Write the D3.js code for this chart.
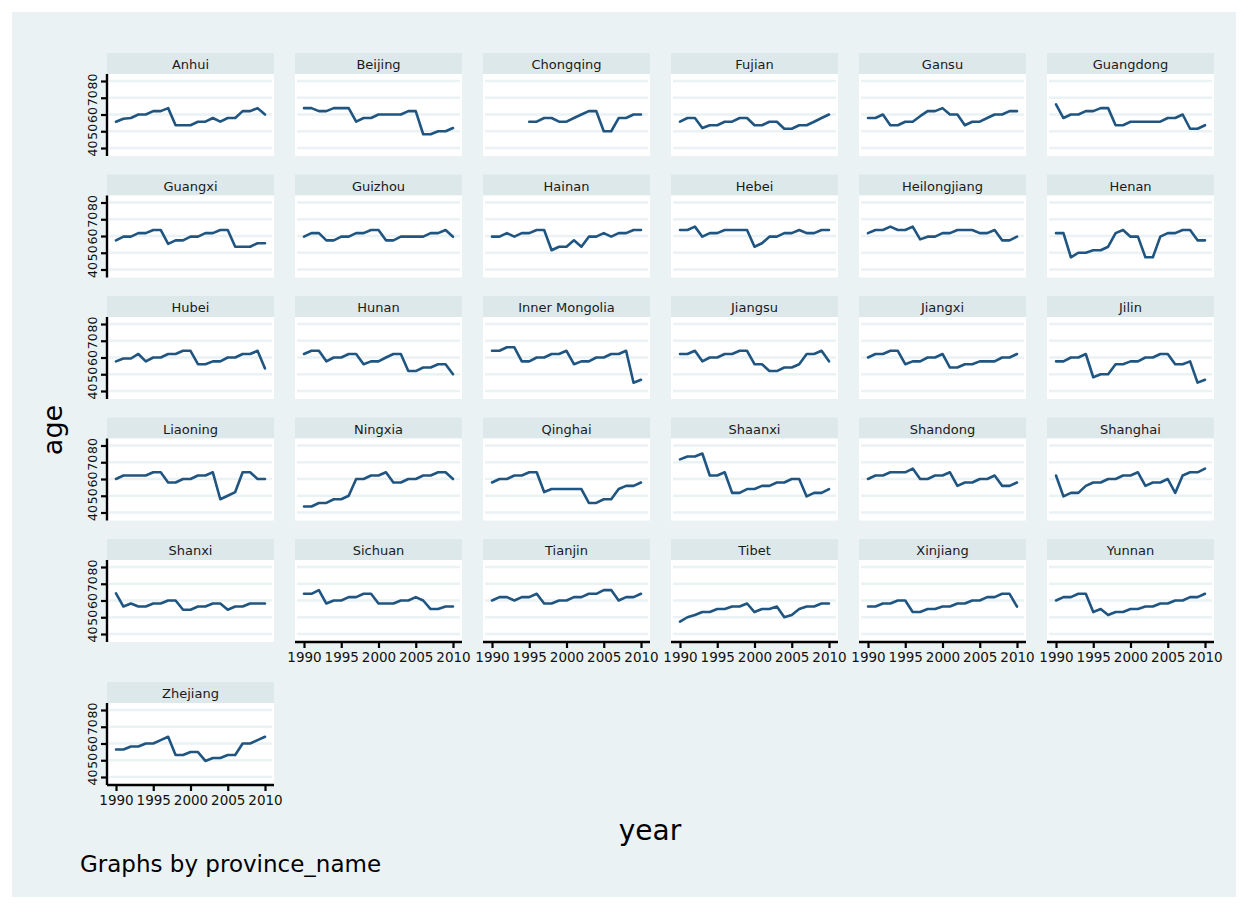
<!DOCTYPE html>
<html>
<head>
<meta charset="utf-8">
<script src="https://cdn.jsdelivr.net/npm/d3@7"></script>
<style>
  html, body { margin: 0; padding: 0; background: #ffffff; }
  svg { display: block; }
  text { font-family: "DejaVu Sans", "Liberation Sans", sans-serif; }
</style>
</head>
<body>
<svg id="chart" width="1248" height="909"></svg>
<script>
// Mean age by province, 1990-2010
const years = d3.range(1990, 2011);
const xTicks = [1990, 1995, 2000, 2005, 2010];
const yTicks = [40, 50, 60, 70, 80];

const anhui        = [55.7,57.5,57.9,60,60,62,62,63.8,53.6,53.6,53.6,55.7,55.7,57.9,55.7,57.9,57.9,62,62,63.8,60];
const beijing      = [63.8,63.8,62,62,63.8,63.8,63.8,55.7,57.9,57.9,60,60,60,60,62,62,48.2,48.2,50,50,51.9];
const chongqing    = [null,null,null,null,null,55.7,55.7,57.9,57.9,55.7,55.7,57.9,60,62,62,50,50,57.9,57.9,60,60];
const fujian       = [55.7,57.9,57.9,51.9,53.6,53.6,55.7,55.7,57.9,57.9,53.6,53.6,55.7,55.7,51.5,51.5,53.6,53.6,55.7,57.9,60];
const gansu        = [57.9,57.9,60,53.6,53.6,55.7,55.7,59,62,62,63.8,60,60,53.6,55.7,55.7,57.9,60,60,62,62];
const guangdong    = [66,57.9,60,60,62,62,63.8,63.8,53.6,53.6,55.7,55.7,55.7,55.7,55.7,57.9,57.9,60,51.5,51.5,53.6];
const guangxi      = [57.4,59.6,59.6,61.7,61.7,63.6,63.6,55.3,57.4,57.4,59.6,59.6,61.7,61.7,63.6,63.6,53.6,53.6,53.6,55.7,55.7];
const guizhou      = [59.6,61.7,61.7,57.4,57.4,59.6,59.6,61.7,61.7,63.6,63.6,57.4,57.4,59.6,59.6,59.6,59.6,61.7,61.7,63.6,59.6];
const hainan       = [59.6,59.6,61.7,59.6,61.7,61.7,63.6,63.6,51.5,53.6,53.6,57.4,53.6,59.6,59.6,61.7,59.6,61.7,61.7,63.6,63.6];
const hebei        = [63.6,63.6,65.6,59.6,61.7,61.7,63.6,63.6,63.6,63.6,53.6,55.7,59.6,59.6,61.7,61.7,63.6,61.7,61.7,63.6,63.6];
const heilongjiang = [61.7,63.6,63.6,65.6,63.6,63.6,65.6,58,59.6,59.6,61.7,61.7,63.6,63.6,63.6,61.7,61.7,63.6,57.4,57.4,59.6];
const henan        = [61.7,61.7,47.3,50,50,51.5,51.5,53.6,61.7,63.6,59.6,59.6,47.3,47.3,59.6,61.7,61.7,63.6,63.6,57.4,57.4];
const hubei        = [57.7,59.4,59.4,62.1,57.7,60,60,62.1,62.1,64,64,56,56,57.7,57.7,60,60,62.1,62.1,64,53.5];
const hunan        = [62.1,64,64,57.7,60,60,62.1,62.1,56,57.7,57.7,60,62.1,62.1,51.9,51.9,54,54,56,56,50];
const innerMongolia= [64,64,66.1,66.1,57.7,57.7,60,60,62.1,62.1,64,56,57.7,57.7,60,60,62.1,62.1,64,44.9,46.7];
const jiangsu      = [62.1,62.1,64,57.7,60,60,62.1,62.1,64,64,56,56,51.9,51.9,54,54,56,62.1,62.1,64,57.7];
const jiangxi      = [60,62.1,62.1,64,64,56,57.7,57.7,60,60,62.1,54,54,56,56,57.7,57.7,57.7,60,60,62.1];
const jilin        = [57.7,57.7,60,60,62.1,48.2,50,50,56,56,57.7,57.7,60,60,62.1,62.1,56,56,57.7,45,46.7];
const liaoning     = [60,62.1,62.1,62.1,62.1,64,64,57.9,57.9,60,60,62.1,62.1,64,47.9,50,52.2,64,64,60,60];
const ningxia      = [43.6,43.6,45.7,45.7,47.9,47.9,50,60,60,62.1,62.1,64,57.9,57.9,60,60,62.1,62.1,64,64,60];
const qinghai      = [57.9,60,60,62.1,62.1,64,64,52.2,54,54,54,54,54,45.7,45.7,47.9,47.9,54,55.9,55.9,57.9];
const shaanxi      = [71.7,73.4,73.4,75.2,62.1,62.1,64,51.7,51.7,54,54,55.9,55.9,57.9,57.9,60,60,49.6,51.7,51.7,54];
const shandong     = [60,62.1,62.1,64,64,64,66.2,60,60,62.1,62.1,64,55.9,57.9,57.9,60,60,62.1,55.9,55.9,57.9];
const shanghai     = [62.1,49.6,51.7,51.7,55.9,57.9,57.9,60,60,62.1,62.1,64,55.9,57.9,57.9,60,51.7,62.1,64,64,66.2];
const shanxi       = [64.3,56.4,58.2,56.4,56.4,58.2,58.2,60,60,54.5,54.5,56.4,56.4,58.2,58.2,54.5,56.4,56.4,58.2,58.2,58.2];
const sichuan      = [64,64,66.2,58.2,60,60,62,62,64,64,58.2,58.2,58.2,60,60,62,60,54.9,54.9,56.4,56.4];
const tianjin      = [60,62,62,60,62,62,64,58.2,58.2,60,60,62,62,64,64,66.2,66.2,60,62,62,64];
const tibet        = [47.4,50,51.3,53.1,53.1,54.9,54.9,56.4,56.4,58.2,53.1,54.9,54.9,56.4,50,51.3,54.9,56.4,56.4,58.2,58.2];
const xinjiang     = [56.4,56.4,58.2,58.2,60,60,53.1,53.1,54.9,54.9,56.4,56.4,58.2,58.2,60,60,62,62,64,64,56.4];
const yunnan       = [60,62,62,64,64,53.1,54.9,51.3,53.1,53.1,54.9,54.9,56.4,56.4,58.2,58.2,60,60,62,62,64];
const zhejiang     = [56.4,56.4,58.2,58.2,60,60,62,64,53.1,53.1,54.9,54.9,49.6,51.3,51.3,53.1,53.1,60,60,62,64];

const provinces = ["Anhui","Beijing","Chongqing","Fujian","Gansu","Guangdong",
  "Guangxi","Guizhou","Hainan","Hebei","Heilongjiang","Henan",
  "Hubei","Hunan","Inner Mongolia","Jiangsu","Jiangxi","Jilin",
  "Liaoning","Ningxia","Qinghai","Shaanxi","Shandong","Shanghai",
  "Shanxi","Sichuan","Tianjin","Tibet","Xinjiang","Yunnan","Zhejiang"];
const series = [anhui,beijing,chongqing,fujian,gansu,guangdong,
  guangxi,guizhou,hainan,hebei,heilongjiang,henan,
  hubei,hunan,innerMongolia,jiangsu,jiangxi,jilin,
  liaoning,ningxia,qinghai,shaanxi,shandong,shanghai,
  shanxi,sichuan,tianjin,tibet,xinjiang,yunnan,zhejiang];

// layout of the 6-column grid
const nCols = 6;
const colLeft = c => 107 + c * 188;
const rowTop = r => (r < 5 ? 53 + r * 121.5 : 682);
const panelW = 167, stripH = 21, plotH = 82;

const svg = d3.select("#chart");
svg.append("rect").attr("x", 12).attr("y", 12).attr("width", 1224).attr("height", 885)
  .attr("fill", "#eaf2f3");

const lineColor = "#1f5580";

provinces.forEach((name, i) => {
  const r = Math.floor(i / nCols), c = i % nCols;
  const L = colLeft(c), T = rowTop(r);
  const pTop = T + stripH, pBot = pTop + plotH;

  const x = d3.scaleLinear().domain([1990, 2010]).range([L + 9, L + 158]);
  const y = d3.scaleLinear().domain([40, 80]).range([T + 95, T + 28]);

  const g = svg.append("g");
  // strip
  g.append("rect").attr("x", L).attr("y", T).attr("width", panelW).attr("height", stripH)
    .attr("fill", "#dde8eb");
  g.append("text").attr("x", L + panelW / 2).attr("y", T + stripH / 2 + 1)
    .attr("text-anchor", "middle").attr("dominant-baseline", "central")
    .attr("font-size", 13).attr("fill", "#1a1a1a").text(name);
  // plot region
  g.append("rect").attr("x", L).attr("y", pTop).attr("width", panelW).attr("height", plotH)
    .attr("fill", "#ffffff");
  // grid
  g.selectAll("line.grid").data(yTicks).join("line").attr("class", "grid")
    .attr("x1", L + 2).attr("x2", L + panelW - 2)
    .attr("y1", d => y(d)).attr("y2", d => y(d))
    .attr("stroke", "#eaf2f3").attr("stroke-width", 2.6);

  // series line
  const vals = series[i];
  const pts = years.map((yr, k) => ({ yr, v: vals[k] }));
  g.append("path").datum(pts)
    .attr("d", d3.line().defined(d => d.v != null).x(d => x(d.yr)).y(d => y(d.v)))
    .attr("fill", "none").attr("stroke", lineColor).attr("stroke-width", 2.6)
    .attr("stroke-linejoin", "round").attr("stroke-linecap", "round");

  // y axis on first column
  if (c === 0) {
    const ax = d3.axisLeft(y).tickValues(yTicks).tickSize(6).tickPadding(3);
    const ag = g.append("g").attr("transform", `translate(${L},0)`).call(ax);
    ag.select(".domain").attr("d", `M0,${pTop}V${pBot}`).attr("stroke", "#000").attr("stroke-width", 2.4);
    ag.selectAll(".tick line").attr("stroke", "#000").attr("stroke-width", 2.2);
    ag.selectAll(".tick text")
      .attr("font-size", 12.5).attr("fill", "#111")
      .attr("text-anchor", "middle").attr("dy", null)
      .attr("x", null)
      .attr("transform", "translate(-15,0) rotate(-90)")
      .attr("dominant-baseline", "central");
  }
  // x axis where no panel sits below
  const hasBelow = i + nCols < provinces.length;
  if (!hasBelow) {
    const ax = d3.axisBottom(x).tickValues(xTicks).tickFormat(d3.format("d")).tickSize(6).tickPadding(4);
    const ag = g.append("g").attr("transform", `translate(0,${pBot})`).call(ax);
    ag.select(".domain").attr("d", `M${L},0H${L + panelW}`).attr("stroke", "#000").attr("stroke-width", 2.4);
    ag.selectAll(".tick line").attr("stroke", "#000").attr("stroke-width", 2.2);
    ag.selectAll(".tick text").attr("font-size", 13.5).attr("fill", "#111");
  }
});

// axis titles and note
svg.append("text").attr("transform", "translate(62,430) rotate(-90)")
  .attr("text-anchor", "middle").attr("font-size", 27).attr("fill", "#000").text("age");
svg.append("text").attr("x", 650).attr("y", 840)
  .attr("text-anchor", "middle").attr("font-size", 28).attr("fill", "#000").text("year");
svg.append("text").attr("x", 80).attr("y", 872)
  .attr("font-size", 23).attr("fill", "#000").text("Graphs by province_name");
</script>
</body>
</html>
